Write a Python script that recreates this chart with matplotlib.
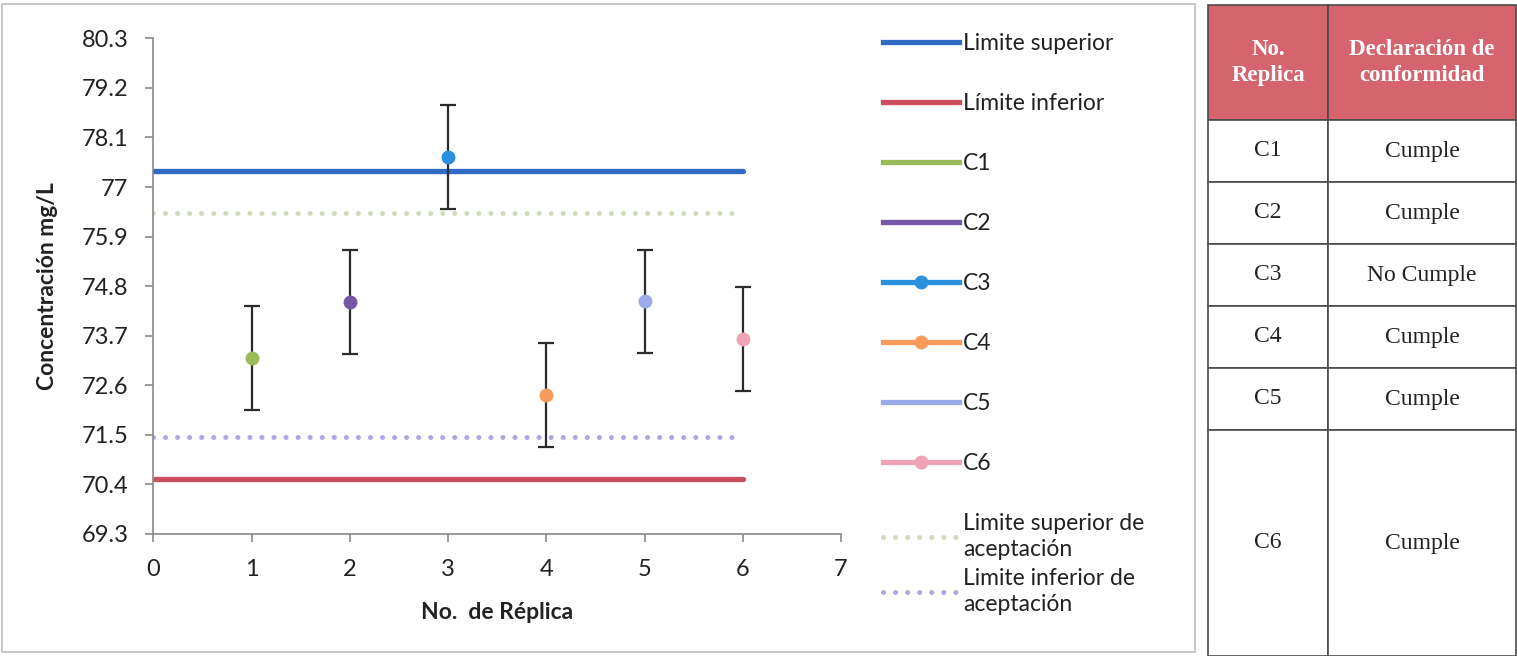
import matplotlib
matplotlib.use("Agg")
import matplotlib.pyplot as plt
from matplotlib.lines import Line2D
from matplotlib.patches import Rectangle

# ---------------- data ----------------
replicas_x = [1, 2, 3, 4, 5, 6]
series_names = ["C1", "C2", "C3", "C4", "C5", "C6"]
series_values = [73.20, 74.45, 77.67, 72.38, 74.46, 73.63]
error_values = [1.15, 1.15, 1.15, 1.15, 1.15, 1.15]
limit_x = [0, 6]
limite_superior = [77.35, 77.35]
limite_inferior = [70.53, 70.53]
lim_sup_acept = [76.43, 76.43]
lim_inf_acept = [71.46, 71.46]
y_ticks = [69.3, 70.4, 71.5, 72.6, 73.7, 74.8, 75.9, 77.0, 78.1, 79.2, 80.3]
y_tick_labels = ["69.3", "70.4", "71.5", "72.6", "73.7", "74.8", "75.9", "77", "78.1", "79.2", "80.3"]
x_ticks = [0, 1, 2, 3, 4, 5, 6, 7]
table_header = ["No.\nReplica", "Declaración de\nconformidad"]
table_replicas = ["C1", "C2", "C3", "C4", "C5", "C6"]
table_declaracion = ["Cumple", "Cumple", "No Cumple", "Cumple", "Cumple", "Cumple"]

# ---------------- style ----------------
series_colors = ["#9bbb59", "#7458a6", "#2a8fdc", "#f79a5c", "#9aabea", "#f0a3b4"]
legend_marker = [False, False, True, True, False, True]
col_sup = "#2f6bc4"
col_inf = "#cc4f5d"
col_sup_acc = "#cfdcbc"
col_inf_acc = "#b3a4e4"

plt.rcParams["font.family"] = ["Lato", "DejaVu Sans"]

W, H = 1517, 656
fig = plt.figure(figsize=(W / 100, H / 100), dpi=100)
fig.patch.set_facecolor("white")

# chart frame
fig.patches.append(Rectangle((2 / W, 4 / H), 1193 / W, 648 / H, transform=fig.transFigure,
                             fill=False, edgecolor="#bdbdbd", linewidth=1.2))

ax = fig.add_axes([153.3 / W, 1 - 534 / H, (841 - 153.3) / W, (534 - 38.3) / H])
ax.set_xlim(0, 7)
ax.set_ylim(69.3, 80.3)

dot_ls = (0, (0.01, 2.4))
ax.plot(limit_x, lim_sup_acept, color=col_sup_acc, lw=3.6, linestyle=dot_ls, dash_capstyle="round", zorder=2)
ax.plot(limit_x, lim_inf_acept, color=col_inf_acc, lw=3.6, linestyle=dot_ls, dash_capstyle="round", zorder=2)
ax.plot(limit_x, limite_superior, color=col_sup, lw=3.8, solid_capstyle="round", zorder=2)
ax.plot(limit_x, limite_inferior, color=col_inf, lw=3.8, solid_capstyle="round", zorder=2)

for x, v, e, c in zip(replicas_x, series_values, error_values, series_colors):
    ax.errorbar([x], [v], yerr=[e], fmt="none", ecolor="#2b2b2b", elinewidth=1.6,
                capsize=6, capthick=1.6, zorder=3)
    ax.plot([x], [v], marker="o", markersize=9, color=c, linestyle="none", zorder=4)

ax.set_yticks(y_ticks)
ax.set_yticklabels(y_tick_labels)
ax.set_xticks(x_ticks)
for s in ["top", "right"]:
    ax.spines[s].set_visible(False)
for s in ["left", "bottom"]:
    ax.spines[s].set_color("#8a8a8a")
    ax.spines[s].set_linewidth(1.2)
ax.tick_params(axis="both", direction="out", length=6, width=1.2, color="#8a8a8a",
               labelsize=17, labelcolor="#222222")
ax.tick_params(axis="y", pad=12)
ax.tick_params(axis="x", pad=12)
ax.set_xlabel("No.  de Réplica", fontsize=16.5, fontweight="bold", color="#222222", labelpad=16)
ax.set_ylabel("Concentración mg/L", fontsize=16.5, fontweight="bold", color="#222222", labelpad=17)

# ---------------- legend ----------------
handles = [Line2D([], [], color=col_sup, lw=3.8), Line2D([], [], color=col_inf, lw=3.8)]
labels = ["Limite superior", "Límite inferior"]
for n, c, m in zip(series_names, series_colors, legend_marker):
    handles.append(Line2D([], [], color=c, lw=3.8, marker="o" if m else None, markersize=9))
    labels.append(n)
handles.append(Line2D([], [], color=col_sup_acc, lw=3.6, linestyle=dot_ls, dash_capstyle="round"))
labels.append("Limite superior de\naceptación")

leg_kw = dict(frameon=False, fontsize=16.5, handlelength=3.3, handletextpad=0.2,
              borderpad=0, borderaxespad=0, labelcolor="#222222", loc="upper left")
leg1 = fig.legend(handles, labels, bbox_to_anchor=(883 / W, 1 - 33 / H),
                  labelspacing=1.7, **leg_kw)
leg2 = fig.legend([Line2D([], [], color=col_inf_acc, lw=3.6, linestyle=dot_ls, dash_capstyle="round")],
                  ["Limite inferior de\naceptación"], bbox_to_anchor=(883 / W, 1 - 568 / H), **leg_kw)
for lg in (leg1, leg2):
    for t in lg.get_texts():
        t.set_linespacing(1.3)

# ---------------- table ----------------
tax = fig.add_axes([1208 / W, 0, (1516 - 1208) / W, 651 / H])
tax.axis("off")
tbl = tax.table(cellText=[[r, d] for r, d in zip(table_replicas, table_declaracion)],
                colLabels=table_header, cellLoc="center", bbox=[0, 0, 1, 1],
                colWidths=[120 / 308, 188 / 308])
tbl.auto_set_font_size(False)
row_h = [115] + [62] * 5 + [226]
for (r, c), cell in tbl.get_celld().items():
    cell.set_height(row_h[r] / 651)
    cell.set_edgecolor("#4a4a4a")
    cell.set_linewidth(1.2)
    t = cell.get_text()
    t.set_fontfamily(["Liberation Serif", "DejaVu Serif"])
    if r == 0:
        cell.set_facecolor("#d6646f")
        t.set_color("white")
        t.set_fontweight("bold")
        t.set_fontsize(16.5)
        t.set_linespacing(1.35)
    else:
        cell.set_facecolor("white")
        t.set_color("#222222")
        t.set_fontsize(17)

fig.savefig("out.png", dpi=100, facecolor="white")
